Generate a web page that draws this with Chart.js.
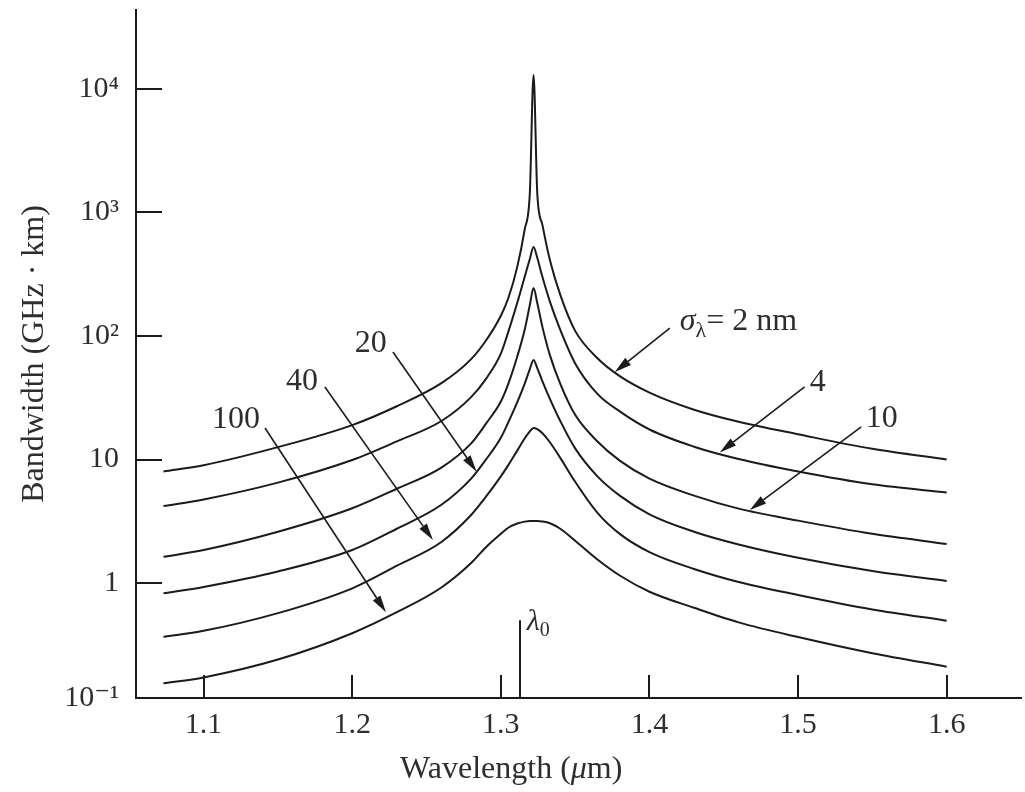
<!DOCTYPE html>
<html>
<head>
<meta charset="utf-8">
<script src="https://cdn.jsdelivr.net/npm/chart.js@4.4.1/dist/chart.umd.min.js"></script>
<style>
  html, body { margin: 0; padding: 0; background: #fff; }
  #wrap { width: 1025px; height: 792px; }
</style>
</head>
<body>
<div id="wrap"><canvas id="chart" width="1025" height="792"></canvas></div>
<script>
/* Fiber bandwidth vs wavelength for several source spectral widths */

// shared wavelength grid (um)
const WAVELENGTH = [1.073, 1.10, 1.15, 1.20, 1.23, 1.26, 1.28, 1.29, 1.30, 1.305, 1.311, 1.316, 1.3195,
                    1.322, 1.3245, 1.328, 1.333, 1.34, 1.35, 1.365, 1.38, 1.40, 1.43, 1.46, 1.50, 1.55, 1.60];

// bandwidth (GHz.km) for each source width
const BW_2NM   = [8.0, 9.0, 12.6, 19, 27, 41.5, 65, 92, 146, 202, 361, 725, 1436,
                  13000, 1436, 790, 412, 215, 110, 66, 47.3, 34.8, 25.3, 20.2, 16.0, 12.2, 10.0];
const BW_4NM   = [4.2, 4.75, 6.5, 9.9, 14, 20.5, 32, 45, 72, 108, 185, 300, 420,
                  525, 430, 300, 190, 112, 60, 34, 24.5, 17.5, 12.7, 10.1, 8.0, 6.3, 5.4];
const BW_10NM  = [1.63, 1.85, 2.6, 4.03, 5.8, 8.6, 13.5, 19.5, 29.5, 41, 68, 112, 178,
                  245, 185, 118, 70, 41, 23, 14, 9.8, 7.0, 5.1, 4.0, 3.2, 2.5, 2.07];
const BW_20NM  = [0.826, 0.93, 1.24, 1.85, 2.75, 4.3, 7.0, 10, 15, 20, 29, 41, 54,
                  64, 55, 43, 31, 20.5, 12.3, 7.3, 5.1, 3.6, 2.6, 2.05, 1.6, 1.25, 1.04];
const BW_40NM  = [0.367, 0.41, 0.57, 0.906, 1.38, 2.15, 3.55, 5.0, 7.3, 9.0, 11.8, 14.8, 16.9,
                  18, 17.6, 16.3, 13.8, 10.3, 6.6, 3.7, 2.5, 1.78, 1.3, 1.02, 0.8, 0.61, 0.495];
const BW_100NM = [0.154, 0.172, 0.24, 0.392, 0.58, 0.92, 1.45, 1.95, 2.5, 2.8, 3.03, 3.14, 3.18,
                  3.18, 3.18, 3.15, 3.05, 2.75, 2.2, 1.55, 1.15, 0.85, 0.63, 0.48, 0.365, 0.27, 0.21];

const SERIES = [BW_2NM, BW_4NM, BW_10NM, BW_20NM, BW_40NM, BW_100NM];

const X_TICKS = [1.1, 1.2, 1.3, 1.4, 1.5, 1.6];
const Y_TICKS = [0.1, 1, 10, 100, 1000, 10000];
const Y_TICK_LABELS = ['10\u207B\u00B9', '1', '10', '10\u00B2', '10\u00B3', '10\u2074'];

// axis extent; the printed 10^-1 tick sits on the wavelength axis itself
const X_MIN = 1.0545, X_MAX = 1.65;
const Y_MIN = 0.1172, Y_MAX = 43600;

const LAMBDA_0 = 1.3128;

const INK = '#1b1b1b';
const TEXT = '#2e2e2e';
const SERIF = "'Liberation Serif', 'Times New Roman', 'DejaVu Serif', serif";

// callouts: label anchor, arrow start, arrow tip (wavelength, bandwidth)
const CALLOUTS = [
  { text: [{ t: '\u03C3', it: true }, { t: '\u03BB', sub: true }, { t: '= 2 nm' }], align: 'left',
    at: [1.4204, 130], from: [1.4137, 116], to: [1.3767, 51.1] },
  { text: [{ t: '4' }],   align: 'left',  at: [1.5078, 41.6], from: [1.5044, 38.8], to: [1.4473, 11.4] },
  { text: [{ t: '10' }],  align: 'left',  at: [1.5455, 21.3], from: [1.5425, 18.4], to: [1.4675, 3.90] },
  { text: [{ t: '20' }],  align: 'right', at: [1.2233, 86.1], from: [1.2274, 74.2], to: [1.2837, 7.97] },
  { text: [{ t: '40' }],  align: 'right', at: [1.1769, 42.4], from: [1.1816, 38.6], to: [1.2543, 2.23] },
  { text: [{ t: '100' }], align: 'right', at: [1.1379, 20.9], from: [1.1413, 18.0], to: [1.2227, 0.58] },
];

function partFont(p, size) {
  return (p.it ? 'italic ' : '') + (p.sub ? Math.round(size * 0.68) : size) + 'px ' + SERIF;
}

function drawParts(ctx, parts, x, y, align, size) {
  const widths = parts.map(p => { ctx.font = partFont(p, size); return ctx.measureText(p.t).width; });
  const total = widths.reduce((a, b) => a + b, 0);
  let cx = align === 'right' ? x - total : align === 'center' ? x - total / 2 : x;
  ctx.textAlign = 'left';
  ctx.textBaseline = 'middle';
  parts.forEach((p, i) => {
    ctx.font = partFont(p, size);
    ctx.fillText(p.t, cx, y + (p.sub ? size * 0.3 : 0));
    cx += widths[i];
  });
}

function drawArrow(ctx, x1, y1, x2, y2) {
  const ang = Math.atan2(y2 - y1, x2 - x1);
  const len = 17, half = 4.5;
  const bx = x2 - len * Math.cos(ang), by = y2 - len * Math.sin(ang);
  ctx.beginPath();
  ctx.moveTo(x1, y1);
  ctx.lineTo(bx, by);
  ctx.stroke();
  ctx.beginPath();
  ctx.moveTo(x2, y2);
  ctx.lineTo(bx - half * Math.sin(ang), by + half * Math.cos(ang));
  ctx.lineTo(bx + half * Math.sin(ang), by - half * Math.cos(ang));
  ctx.closePath();
  ctx.fill();
}

const overlay = {
  id: 'overlay',
  afterDraw(chart) {
    const { ctx, chartArea: a, scales: { x, y } } = chart;
    ctx.save();
    ctx.strokeStyle = INK;
    ctx.fillStyle = INK;
    ctx.lineWidth = 2;

    // tick marks point into the plot
    X_TICKS.forEach(v => {
      const px = Math.round(x.getPixelForValue(v));
      ctx.beginPath(); ctx.moveTo(px, a.bottom); ctx.lineTo(px, a.bottom - 23); ctx.stroke();
    });
    Y_TICKS.slice(1).forEach(v => {
      const py = Math.round(y.getPixelForValue(v));
      ctx.beginPath(); ctx.moveTo(a.left, py); ctx.lineTo(a.left + 26, py); ctx.stroke();
    });

    // lambda0 marker
    const lx = Math.round(x.getPixelForValue(LAMBDA_0));
    ctx.beginPath(); ctx.moveTo(lx, a.bottom); ctx.lineTo(lx, y.getPixelForValue(0.5)); ctx.stroke();
    ctx.fillStyle = TEXT;
    drawParts(ctx, [{ t: '\u03BB', it: true }, { t: '0', sub: true }],
      x.getPixelForValue(1.3175), y.getPixelForValue(0.483), 'left', 30);

    // callouts
    ctx.lineWidth = 1.6;
    CALLOUTS.forEach(c => {
      ctx.fillStyle = INK;
      drawArrow(ctx, x.getPixelForValue(c.from[0]), y.getPixelForValue(c.from[1]),
                     x.getPixelForValue(c.to[0]), y.getPixelForValue(c.to[1]));
      ctx.fillStyle = TEXT;
      drawParts(ctx, c.text, x.getPixelForValue(c.at[0]), y.getPixelForValue(c.at[1]), c.align, 32);
    });

    // x axis title
    drawParts(ctx, [{ t: 'Wavelength (' }, { t: '\u03BC', it: true }, { t: 'm)' }],
      x.getPixelForValue(1.307), a.bottom + 72, 'center', 32);
    ctx.restore();
  }
};

const tickFont = { family: SERIF, size: 30 };

new Chart(document.getElementById('chart'), {
  type: 'line',
  data: {
    datasets: SERIES.map(vals => ({
      data: WAVELENGTH.map((w, i) => ({ x: w, y: vals[i] })),
      borderColor: INK,
      borderWidth: 2,
      pointRadius: 0,
      fill: false,
      cubicInterpolationMode: 'monotone',
    })),
  },
  options: {
    responsive: false,
    animation: false,
    layout: { padding: { top: 10, right: 4, left: 0, bottom: 0 } },
    plugins: { legend: { display: false }, tooltip: { enabled: false } },
    scales: {
      x: {
        type: 'linear', min: X_MIN, max: X_MAX,
        grid: { display: false, drawTicks: false },
        border: { display: true, color: INK, width: 2 },
        ticks: { font: tickFont, color: TEXT, padding: 9, callback: v => v.toFixed(1) },
        afterBuildTicks: s => { s.ticks = X_TICKS.map(v => ({ value: v })); },
        afterFit: s => { s.height = 94; s.paddingLeft = 0; s.paddingRight = 0; },
      },
      y: {
        type: 'logarithmic', min: Y_MIN, max: Y_MAX,
        grid: { display: false, drawTicks: false },
        border: { display: true, color: INK, width: 2 },
        ticks: { font: tickFont, color: TEXT, padding: 17, callback: (v, i) => Y_TICK_LABELS[i] },
        afterBuildTicks: s => { s.ticks = Y_TICKS.map(v => ({ value: Math.max(v, Y_MIN) })); },
        afterFit: s => { s.width = 136; s.paddingTop = 0; s.paddingBottom = 0; },
        title: {
          display: true, text: 'Bandwidth (GHz \u00B7 km)', color: TEXT,
          font: { family: SERIF, size: 32 }, padding: { top: 15, bottom: 0 },
        },
      },
    },
  },
  plugins: [overlay],
});
</script>
</body>
</html>
